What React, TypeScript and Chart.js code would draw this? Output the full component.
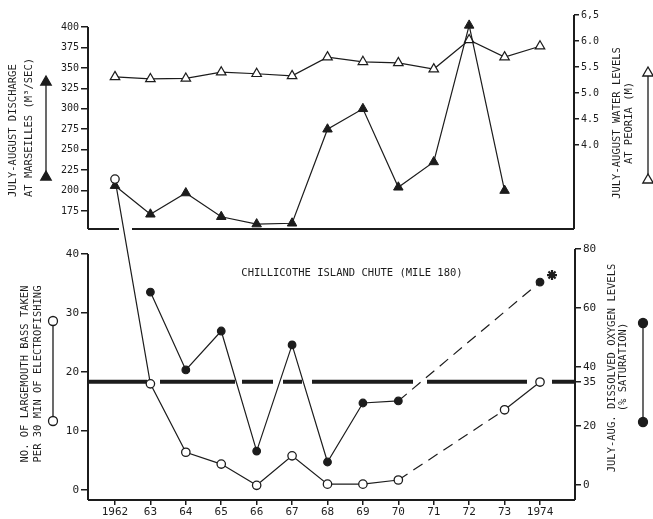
import React, { useEffect, useRef } from 'react';
import { Chart, registerables } from 'chart.js';
Chart.register(...registerables);

// ---------- data ----------
const years = [1962, 1963, 1964, 1965, 1966, 1967, 1968, 1969, 1970, 1971, 1972, 1973, 1974];
const dischargeMarseilles = [206, 171, 197, 168, 159, 160, 275, 300, 204, 235, 402, 200, null];
const waterLevelPeoria = [5.31, 5.27, 5.28, 5.40, 5.37, 5.33, 5.69, 5.60, 5.58, 5.46, 6.02, 5.69, 5.90];
const bassPer30Min = [52.7, 18.0, 6.4, 4.4, 0.8, 5.8, 1.0, 1.0, 1.7, null, null, 13.6, 18.3];
const dissolvedOxygen = [null, 65.4, 39, 52.2, 11.5, 47.5, 7.8, 27.8, 28.5, null, null, null, 68.8];

const dischargeTicks = [175, 200, 225, 250, 275, 300, 325, 350, 375, 400];
const peoriaTicks = [4.0, 4.5, 5.0, 5.5, 6.0, 6.5];
const peoriaTickLabels = ['4.0', '4.5', '5.0', '5.5', '6.0', '6,5'];
const bassTicks = [0, 10, 20, 30, 40];
const oxygenTicks = [0, 20, 35, 40, 60, 80];
const oxygenThreshold = 35;
const dashedFromYear = 1970;

const chartTitle = 'CHILLICOTHE ISLAND CHUTE (MILE 180)';
const dischargeLabel = ['JULY-AUGUST DISCHARGE', 'AT MARSEILLES (M³/SEC)'];
const peoriaLabel = ['JULY-AUGUST WATER LEVELS', 'AT PEORIA (M)'];
const bassLabel = ['NO. OF LARGEMOUTH BASS TAKEN', 'PER 30 MIN OF ELECTROFISHING'];
const oxygenLabel = ['JULY-AUG. DISSOLVED OXYGEN LEVELS', '(% SATURATION)'];

// ---------- style ----------
const INK = '#1c1c1c';
const MONO = '"DejaVu Sans Mono", "Liberation Mono", monospace';

const toXY = (vals: (number | null)[]) =>
  years.map((x, i) => ({ x, y: vals[i] })).filter((p) => p.y !== null);

function yScale(position: string, min: number, max: number, ticks: number[], width: number, size: number, labels?: string[], tickLength = 7) {
  return {
    type: 'linear',
    position,
    min,
    max,
    afterBuildTicks: (s: any) => {
      s.ticks = ticks.map((v) => ({ value: v }));
    },
    afterFit: (s: any) => {
      s.width = width;
    },
    grid: { display: true, drawOnChartArea: false, drawTicks: true, tickLength, color: INK, lineWidth: 1.5 },
    border: { display: false },
    ticks: {
      color: INK,
      font: { family: MONO, size },
      padding: 2,
      callback: (v: number) => {
        const i = ticks.indexOf(v);
        if (labels && i >= 0) return labels[i];
        return String(v);
      },
    },
  };
}

function rotText(ctx: CanvasRenderingContext2D, text: string, x: number, y: number, align: CanvasTextAlign) {
  ctx.save();
  ctx.translate(x, y);
  ctx.rotate(-Math.PI / 2);
  ctx.textAlign = align;
  ctx.textBaseline = 'middle';
  ctx.fillText(text, 0, 0);
  ctx.restore();
}

function triangle(ctx: CanvasRenderingContext2D, x: number, y: number, r: number, filled: boolean) {
  ctx.beginPath();
  ctx.moveTo(x, y - r);
  ctx.lineTo(x + r * 0.866, y + r * 0.5);
  ctx.lineTo(x - r * 0.866, y + r * 0.5);
  ctx.closePath();
  ctx.fillStyle = filled ? INK : '#fff';
  ctx.fill();
  ctx.stroke();
}

function circle(ctx: CanvasRenderingContext2D, x: number, y: number, r: number, filled: boolean) {
  ctx.beginPath();
  ctx.arc(x, y, r, 0, Math.PI * 2);
  ctx.fillStyle = filled ? INK : '#fff';
  ctx.fill();
  ctx.stroke();
}

const topDecor = {
  id: 'topDecor',
  beforeDatasetsDraw(chart: any) {
    const { ctx, chartArea: a, scales } = chart;
    ctx.save();
    ctx.strokeStyle = INK;
    ctx.lineWidth = 2;
    const y400 = scales.yDis.getPixelForValue(400);
    ctx.beginPath();
    ctx.moveTo(a.left, y400);
    ctx.lineTo(a.left, a.bottom);
    ctx.moveTo(a.right, a.top);
    ctx.lineTo(a.right, a.bottom);
    ctx.moveTo(a.left, a.bottom);
    ctx.lineTo(119, a.bottom);
    ctx.moveTo(132, a.bottom);
    ctx.lineTo(a.right, a.bottom);
    ctx.stroke();
    ctx.restore();
  },
  afterDraw(chart: any) {
    const { ctx } = chart;
    ctx.save();
    ctx.fillStyle = INK;
    ctx.font = `10.5px ${MONO}`;
    rotText(ctx, dischargeLabel[0], 13, 197, 'left');
    rotText(ctx, dischargeLabel[1], 29, 197, 'left');
    rotText(ctx, peoriaLabel[0], 617, 123, 'center');
    rotText(ctx, peoriaLabel[1], 629, 123, 'center');
    ctx.strokeStyle = INK;
    ctx.lineWidth = 1.3;
    ctx.beginPath();
    ctx.moveTo(46, 82);
    ctx.lineTo(46, 176);
    ctx.moveTo(648, 75);
    ctx.lineTo(648, 180);
    ctx.stroke();
    triangle(ctx, 46, 82, 6, true);
    triangle(ctx, 46, 177, 6, true);
    triangle(ctx, 648, 73, 6, false);
    triangle(ctx, 648, 180, 6, false);
    ctx.restore();
  },
};

const bottomDecor = {
  id: 'bottomDecor',
  beforeDatasetsDraw(chart: any) {
    const { ctx, chartArea: a, scales } = chart;
    ctx.save();
    ctx.strokeStyle = INK;
    ctx.lineWidth = 2;
    const y40 = scales.yBass.getPixelForValue(40);
    ctx.beginPath();
    ctx.moveTo(a.left, y40);
    ctx.lineTo(a.left, a.bottom);
    ctx.moveTo(a.right, a.top);
    ctx.lineTo(a.right, a.bottom);
    ctx.moveTo(a.left, a.bottom);
    ctx.lineTo(a.right, a.bottom);
    ctx.stroke();
    // 35% saturation threshold line
    const yT = scales.yDO.getPixelForValue(oxygenThreshold);
    ctx.lineWidth = 4;
    ctx.setLineDash([59, 13, 75, 7, 31, 10, 19, 10, 101, 14, 100, 25, 40]);
    ctx.beginPath();
    ctx.moveTo(a.left, yT);
    ctx.lineTo(a.right, yT);
    ctx.stroke();
    ctx.setLineDash([]);
    // title
    ctx.fillStyle = INK;
    ctx.font = `10.5px ${MONO}`;
    ctx.textAlign = 'center';
    ctx.textBaseline = 'middle';
    ctx.fillText(chartTitle, 352, 273);
    ctx.restore();
  },
  afterDatasetsDraw(chart: any) {
    // points that lie above the chart area (e.g. 1962 bass count) are skipped by Chart.js; draw them here
    const { ctx, chartArea: a } = chart;
    const wide = { left: 0, top: 0, right: chart.width, bottom: chart.height };
    chart.data.datasets.forEach((_: any, di: number) => {
      const meta = chart.getDatasetMeta(di);
      meta.data.forEach((el: any) => {
        if (el.y < a.top || el.y > a.bottom) el.draw(ctx, wide);
      });
    });
  },
  afterDraw(chart: any) {
    const { ctx, scales } = chart;
    ctx.save();
    ctx.fillStyle = INK;
    ctx.font = `10.5px ${MONO}`;
    rotText(ctx, bassLabel[0], 25, 374, 'center');
    rotText(ctx, bassLabel[1], 38, 374, 'center');
    rotText(ctx, oxygenLabel[0], 612, 368, 'center');
    rotText(ctx, oxygenLabel[1], 623, 367, 'center');
    ctx.strokeStyle = INK;
    ctx.lineWidth = 1.3;
    ctx.beginPath();
    ctx.moveTo(53, 321);
    ctx.lineTo(53, 421);
    ctx.moveTo(643, 323);
    ctx.lineTo(643, 422);
    ctx.stroke();
    circle(ctx, 53, 321, 4.5, false);
    circle(ctx, 53, 421, 4.5, false);
    circle(ctx, 643, 323, 4.5, true);
    circle(ctx, 643, 422, 4.5, true);
    // asterisk next to 1974 oxygen value
    const lastYear = years[years.length - 1];
    const ax = scales.x.getPixelForValue(lastYear) + 12;
    const ay = scales.yDO.getPixelForValue(dissolvedOxygen[dissolvedOxygen.length - 1] as number) - 7;
    ctx.lineWidth = 2.2;
    ctx.beginPath();
    for (let k = 0; k < 4; k++) {
      const ang = (k * Math.PI) / 4;
      ctx.moveTo(ax - 5 * Math.cos(ang), ay - 5 * Math.sin(ang));
      ctx.lineTo(ax + 5 * Math.cos(ang), ay + 5 * Math.sin(ang));
    }
    ctx.stroke();
    ctx.restore();
  },
};

const dashAfter = (ctx: any) => (ctx.p0.parsed.x >= dashedFromYear && ctx.p1.parsed.x - ctx.p0.parsed.x > 1 ? [11, 7] : undefined);

export default function App() {
  const topRef = useRef<HTMLCanvasElement>(null);
  const botRef = useRef<HTMLCanvasElement>(null);

  useEffect(() => {
    const common = {
      responsive: false,
      animation: false,
      devicePixelRatio: 1,
      events: [],
      plugins: { legend: { display: false }, tooltip: { enabled: false } },
    };

    const top = new Chart(topRef.current as HTMLCanvasElement, {
      type: 'line',
      data: {
        datasets: [
          {
            label: 'Discharge at Marseilles',
            data: toXY(dischargeMarseilles),
            yAxisID: 'yDis',
            borderColor: INK,
            borderWidth: 1.2,
            pointStyle: 'triangle',
            pointRadius: 5.5,
            pointBackgroundColor: INK,
            pointBorderColor: INK,
            pointBorderWidth: 1,
            clip: false,
          },
          {
            label: 'Water level at Peoria',
            data: toXY(waterLevelPeoria),
            yAxisID: 'yPeo',
            borderColor: INK,
            borderWidth: 1.2,
            pointStyle: 'triangle',
            pointRadius: 5.5,
            pointBackgroundColor: '#fff',
            pointBorderColor: INK,
            pointBorderWidth: 1.2,
            clip: false,
          },
        ],
      },
      options: {
        ...common,
        layout: { padding: { top: 15, bottom: 11, left: 0, right: 0 } },
        scales: {
          x: { type: 'linear', display: false, min: 1961.238, max: 1974.96 },
          yDis: yScale('left', 153, 414.7, dischargeTicks, 88, 10),
          yPeo: yScale('right', 2.385, 6.5, peoriaTicks, 79, 10, peoriaTickLabels, 5),
        },
      },
      plugins: [topDecor],
    } as any);

    const bottom = new Chart(botRef.current as HTMLCanvasElement, {
      type: 'line',
      data: {
        datasets: [
          {
            label: 'Dissolved oxygen',
            data: toXY(dissolvedOxygen),
            yAxisID: 'yDO',
            borderColor: INK,
            borderWidth: 1.2,
            spanGaps: true,
            segment: { borderDash: dashAfter },
            pointStyle: 'circle',
            pointRadius: 3.8,
            pointBackgroundColor: INK,
            pointBorderColor: INK,
            clip: false,
          },
          {
            label: 'Largemouth bass',
            data: toXY(bassPer30Min),
            yAxisID: 'yBass',
            borderColor: INK,
            borderWidth: 1.2,
            spanGaps: true,
            segment: { borderDash: dashAfter },
            pointStyle: 'circle',
            pointRadius: 4.2,
            pointBackgroundColor: '#fff',
            pointBorderColor: INK,
            pointBorderWidth: 1.3,
            clip: false,
          },
        ],
      },
      options: {
        ...common,
        layout: { padding: { top: 249, bottom: 0, left: 0, right: 0 } },
        scales: {
          x: {
            type: 'linear',
            position: 'bottom',
            min: 1961.238,
            max: 1974.988,
            afterBuildTicks: (s: any) => {
              s.ticks = years.map((v) => ({ value: v }));
            },
            afterFit: (s: any) => {
              s.height = 19;
            },
            grid: { display: true, drawOnChartArea: false, drawTicks: true, tickLength: 5, color: INK, lineWidth: 1.5 },
            border: { display: false },
            ticks: {
              color: INK,
              font: { family: MONO, size: 11 },
              padding: 1,
              maxRotation: 0,
              autoSkip: false,
              callback: (v: number) => (v === years[0] || v === years[years.length - 1] ? String(v) : String(v % 100)),
            },
          },
          yBass: yScale('left', -1.69, 40.85, bassTicks, 88, 11),
          yDO: yScale('right', -5.08, 80, oxygenTicks, 78, 11, undefined, 6),
        },
      },
      plugins: [bottomDecor],
    } as any);

    return () => {
      top.destroy();
      bottom.destroy();
    };
  }, []);

  return (
    <div style={{ position: 'absolute', left: 0, top: 0, width: 653, height: 519, background: '#fff' }}>
      <canvas ref={topRef} width={653} height={240} style={{ position: 'absolute', left: 0, top: 0, width: 653, height: 240 }} />
      <canvas ref={botRef} width={653} height={519} style={{ position: 'absolute', left: 0, top: 0, width: 653, height: 519 }} />
    </div>
  );
}
